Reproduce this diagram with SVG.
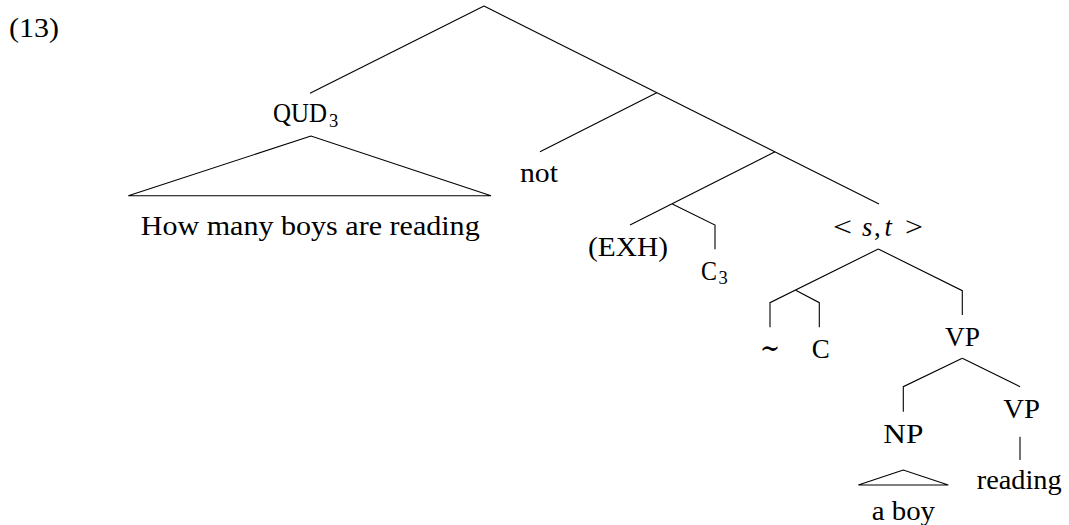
<svg xmlns="http://www.w3.org/2000/svg" width="1069" height="525" viewBox="0 0 1069 525">
<style>
.t{font-family:"Liberation Serif","Times New Roman",serif;font-size:26.5px;fill:#000}
.i{font-style:italic}
.sub{font-family:"Liberation Serif","Times New Roman",serif;font-size:18.5px;fill:#000}
.e{fill:none;stroke:#000;stroke-width:1.1;stroke-linejoin:miter}
</style>
<rect width="1069" height="525" fill="#fff"/>
<g id="connectors">
<path class="e" d="M484,6 L310,93.3"/>
<path class="e" d="M484,6 L879,204"/>
<path class="e" d="M656.7,92.8 L540,151.7"/>
<path class="e" d="M775,151.7 L630,225"/>
<path class="e" d="M672.3,204 L715,225 L715,249.3"/>
<path class="e" d="M311,136 L128.3,195.7 L491,195.7 Z"/>
<path class="e" d="M878.3,249 L770,302.7 L770,327.3"/>
<path class="e" d="M795.7,290.2 L819.3,302.7 L819.3,327.3"/>
<path class="e" d="M878.3,249 L962.3,290.7 L962.3,315"/>
<path class="e" d="M962.3,358.3 L903.3,386.7 L903.3,411.7"/>
<path class="e" d="M962.3,358.3 L1020,386.7"/>
<path class="e" d="M1020,436.7 L1020,460"/>
<path class="e" d="M903.3,470 L858.3,485 L948.3,485 Z"/>
</g>
<g id="n-label"><text class="t" x="9" y="37" textLength="50" lengthAdjust="spacingAndGlyphs">(13)</text></g>
<g id="n-qud"><text class="t" x="273" y="121.7" textLength="54" lengthAdjust="spacingAndGlyphs">QUD</text><text class="sub" x="329" y="126.5">3</text></g>
<g id="n-howmany"><text class="t" x="140.7" y="235" textLength="339" lengthAdjust="spacingAndGlyphs">How many boys are reading</text></g>
<g id="n-not"><text class="t" x="520" y="181.7" textLength="38" lengthAdjust="spacingAndGlyphs">not</text></g>
<g id="n-exh"><text class="t" x="588" y="255.7" textLength="80" lengthAdjust="spacingAndGlyphs">(EXH)</text></g>
<g id="n-c3"><text class="t" x="701" y="280" textLength="16" lengthAdjust="spacingAndGlyphs">C</text><text class="sub" x="718.5" y="283.5">3</text></g>
<g id="n-st"><text class="t" x="833" y="236" textLength="19" lengthAdjust="spacingAndGlyphs">&lt;</text><text class="t i" x="862" y="236">s</text><text class="t" x="874" y="236">,</text><text class="t i" x="884.5" y="236">t</text><text class="t" x="905" y="236" textLength="18" lengthAdjust="spacingAndGlyphs">&gt;</text></g>
<g id="n-tilde"><text class="t" x="760" y="358" textLength="20" lengthAdjust="spacingAndGlyphs" style="font-family:'DejaVu Serif',serif;font-size:30px">∼</text></g>
<g id="n-c"><text class="t" x="811.7" y="358" textLength="18" lengthAdjust="spacingAndGlyphs">C</text></g>
<g id="n-vp1"><text class="t" x="945" y="346" textLength="35" lengthAdjust="spacingAndGlyphs">VP</text></g>
<g id="n-np"><text class="t" x="883.3" y="443" textLength="40" lengthAdjust="spacingAndGlyphs">NP</text></g>
<g id="n-vp2"><text class="t" x="1003.3" y="418" textLength="36.7" lengthAdjust="spacingAndGlyphs">VP</text></g>
<g id="n-reading"><text class="t" x="976.7" y="488.5" textLength="85" lengthAdjust="spacingAndGlyphs">reading</text></g>
<g id="n-aboy"><text class="t" x="871.7" y="520" textLength="63.3" lengthAdjust="spacingAndGlyphs">a boy</text></g>
</svg>
